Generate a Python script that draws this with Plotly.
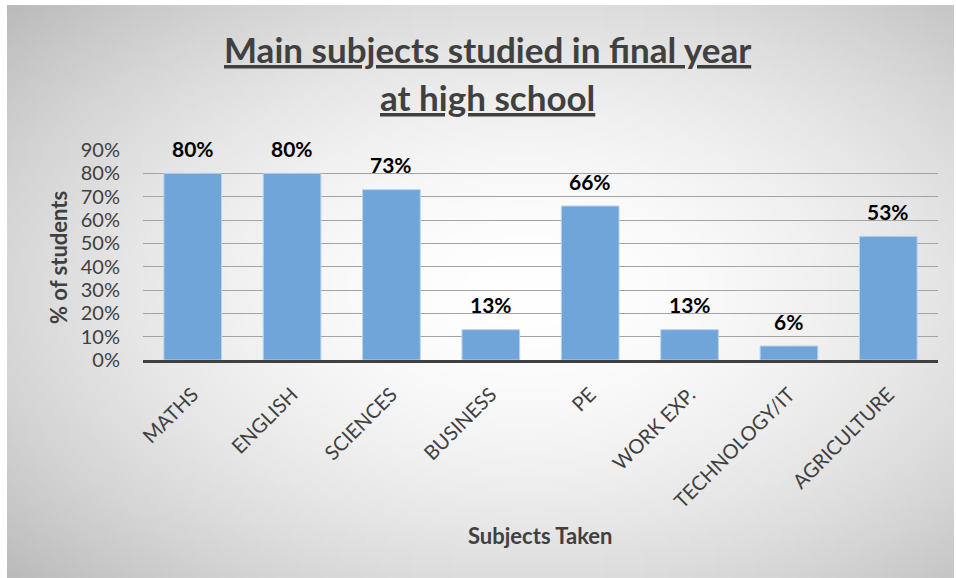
import base64
import struct
import zlib

import numpy as np
import plotly.graph_objects as go

# ---- data ----
subjects = ["MATHS", "ENGLISH", "SCIENCES", "BUSINESS", "PE",
            "WORK EXP.", "TECHNOLOGY/IT", "AGRICULTURE"]
share = [0.80, 0.80, 0.73, 0.13, 0.66, 0.13, 0.06, 0.53]
y_ticks = [0.0, 0.1, 0.2, 0.3, 0.4, 0.5, 0.6, 0.7, 0.8, 0.9]

title_lines = ["Main subjects studied in final year", "at high school"]
y_title = "% of students"
x_title = "Subjects Taken"

# ---- geometry (pixels) ----
W, H = 956, 578
M_L, M_R, M_T, M_B = 143, 18, 150, 218
PW, PH = W - M_L - M_R, H - M_T - M_B


def px_x(px):
    return (px - M_L) / PW


def px_y(py):
    return (H - M_B - py) / PH


FONT = "Lato"
TXT = "#404040"


# ---- radial grey background rendered as a small PNG ----
def gradient_png(w, h):
    yy, xx = np.mgrid[0:h, 0:w]
    nx = (xx / (w - 1) - 0.55) / 0.5
    ny = (yy / (h - 1) - 0.5) / 0.5
    d = np.sqrt(nx ** 2 + ny ** 2) / np.sqrt(2)
    g = 255 - 62 * np.clip(d, 0, 1.2) ** 1.8
    g = np.clip(g, 0, 255).astype(np.uint8)
    raw = b"".join(b"\x00" + row.tobytes() for row in g)

    def chunk(tag, data):
        c = struct.pack(">I", len(data)) + tag + data
        return c + struct.pack(">I", zlib.crc32(tag + data) & 0xFFFFFFFF)

    png = b"\x89PNG\r\n\x1a\n"
    png += chunk(b"IHDR", struct.pack(">IIBBBBB", w, h, 8, 0, 0, 0, 0))
    png += chunk(b"IDAT", zlib.compress(raw, 9))
    png += chunk(b"IEND", b"")
    return "data:image/png;base64," + base64.b64encode(png).decode()


bg_x0, bg_x1, bg_y0, bg_y1 = 7, 954, 5, 578

fig = go.Figure()
fig.add_trace(go.Bar(
    x=subjects, y=share,
    marker=dict(color="#6fa5d9", line=dict(color="#b7d2ee", width=1)),
    hoverinfo="skip",
))

annotations = []
# value labels above the bars
for s, v in zip(subjects, share):
    annotations.append(dict(
        x=s, y=v, xref="x", yref="y", text=f"{round(v * 100)}%",
        showarrow=False, yanchor="middle", yshift=25,
        font=dict(family=FONT, size=21, color="#000000", weight="bold"),
    ))

# two-line underlined title
for txt, py in zip(title_lines, [49, 97]):
    annotations.append(dict(
        x=px_x(487), y=px_y(py), xref="paper", yref="paper",
        text=f"<u>{txt}</u>", showarrow=False,
        xanchor="center", yanchor="middle",
        font=dict(family=FONT, size=35, color=TXT, weight="bold"),
    ))

annotations.append(dict(
    x=px_x(58), y=px_y(258), xref="paper", yref="paper", text=y_title,
    showarrow=False, textangle=-90, xanchor="center", yanchor="middle",
    font=dict(family=FONT, size=22, color=TXT, weight="bold"),
))
annotations.append(dict(
    x=px_x(540), y=px_y(535), xref="paper", yref="paper", text=x_title,
    showarrow=False, xanchor="center", yanchor="middle",
    font=dict(family=FONT, size=22, color=TXT, weight="bold"),
))

fig.update_layout(
    width=W, height=H,
    margin=dict(l=M_L, r=M_R, t=M_T, b=M_B, pad=0),
    paper_bgcolor="#ffffff",
    plot_bgcolor="rgba(0,0,0,0)",
    showlegend=False,
    bargap=0.42,
    annotations=annotations,
    images=[dict(
        source=gradient_png(190, 116),
        xref="paper", yref="paper",
        x=px_x(bg_x0), y=px_y(bg_y0),
        sizex=px_x(bg_x1) - px_x(bg_x0), sizey=px_y(bg_y0) - px_y(bg_y1),
        xanchor="left", yanchor="top", sizing="stretch", layer="below",
    )],
    xaxis=dict(
        tickangle=-45, tickfont=dict(family=FONT, size=20, color=TXT),
        showline=True, linecolor="#404040", linewidth=3,
        showgrid=False, ticks="", ticklabelstandoff=12,
        fixedrange=True,
    ),
    yaxis=dict(
        range=[0, 0.9], tickvals=y_ticks, tickformat=".0%",
        tickfont=dict(family=FONT, size=20, color=TXT),
        showgrid=True, gridcolor="#a3a3a3", gridwidth=1,
        zeroline=False, ticks="", ticklabelstandoff=22,
        fixedrange=True,
    ),
)

fig.write_html("out.html", config={"displayModeBar": False})
